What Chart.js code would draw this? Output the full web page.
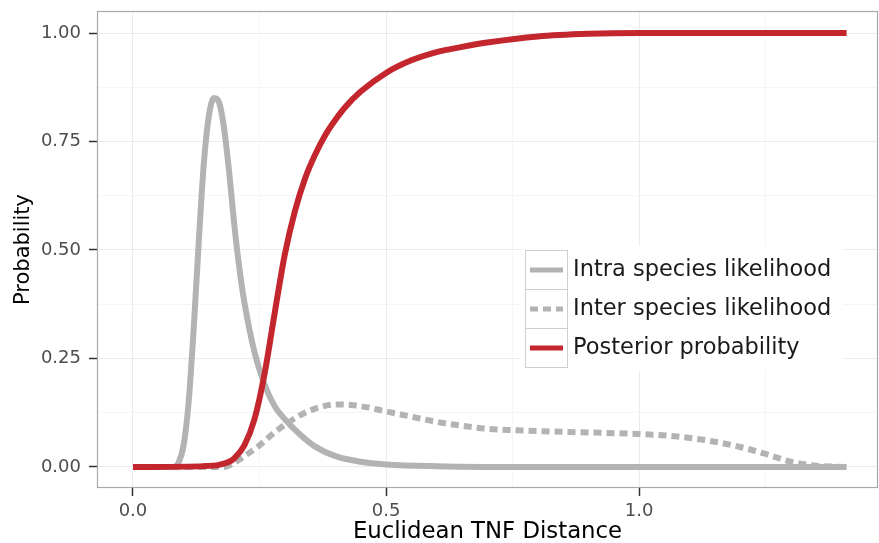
<!DOCTYPE html>
<html>
<head>
<meta charset="utf-8">
<script src="https://cdn.jsdelivr.net/npm/chart.js@4.4.0/dist/chart.umd.min.js"></script>
<style>
  html, body { margin: 0; padding: 0; background: #fff; }
  canvas { display: block; }
</style>
</head>
<body>
<canvas id="chart" width="879" height="543"></canvas>
<script>
/* ===== Intra / inter species likelihood vs posterior ===== */

const seriesNames = ['Intra species likelihood', 'Inter species likelihood', 'Posterior probability'];

const intraX = [0, 0.08, 0.09, 0.10, 0.11, 0.12, 0.13, 0.14, 0.15, 0.16, 0.17, 0.18, 0.19, 0.20, 0.21, 0.22,
                0.24, 0.26, 0.28, 0.30, 0.33, 0.36, 0.40, 0.45, 0.50, 0.60, 0.80, 1.41];
const intraY = [0, 0, 0.01, 0.05, 0.15, 0.32, 0.52, 0.70, 0.81, 0.85, 0.84, 0.78, 0.68, 0.56, 0.46, 0.38,
                0.265, 0.19, 0.14, 0.11, 0.075, 0.047, 0.025, 0.012, 0.006, 0.002, 0, 0];

const interX = [0, 0.18, 0.20, 0.22, 0.25, 0.28, 0.31, 0.34, 0.37, 0.40, 0.43, 0.46, 0.50, 0.55, 0.60, 0.65,
                0.70, 0.75, 0.85, 0.95, 1.00, 1.06, 1.13, 1.20, 1.25, 1.30, 1.35, 1.41];
const interY = [0, 0, 0.01, 0.025, 0.05, 0.08, 0.105, 0.125, 0.138, 0.144, 0.143, 0.138, 0.128, 0.116, 0.104, 0.095,
                0.088, 0.085, 0.081, 0.078, 0.076, 0.072, 0.062, 0.046, 0.03, 0.012, 0.003, 0];

const postX = [0, 0.14, 0.17, 0.19, 0.20, 0.22, 0.24, 0.26, 0.28, 0.30, 0.32, 0.34, 0.36, 0.38, 0.40, 0.42,
               0.45, 0.50, 0.55, 0.60, 0.65, 0.70, 0.80, 0.90, 1.00, 1.41];
const postY = [0, 0.002, 0.005, 0.012, 0.02, 0.05, 0.11, 0.215, 0.355, 0.49, 0.59, 0.665, 0.72, 0.765, 0.80, 0.83,
               0.865, 0.908, 0.937, 0.956, 0.968, 0.978, 0.992, 0.998, 1.0, 1.0];

const xMajorTicks = [0, 0.5, 1.0];
const xMinorTicks = [0.25, 0.75, 1.25];
const yMajorTicks = [0, 0.25, 0.5, 0.75, 1.0];
const yMinorTicks = [0.125, 0.375, 0.625, 0.875];

const GRAY = '#b3b3b5';
const RED = '#c3262d';
const FONT = '"DejaVu Sans", Arial, sans-serif';

function toPoints(xs, ys) {
  return xs.map((x, i) => ({ x: x, y: ys[i] }));
}

function tickList(major, minor) {
  return major.concat(minor).sort((a, b) => a - b).map(v => ({ value: v }));
}

// panel border (theme_bw style)
const framePlugin = {
  id: 'frame',
  beforeDatasetsDraw(chart) {
    const a = chart.chartArea, ctx = chart.ctx;
    ctx.save();
    ctx.strokeStyle = '#a9a9a9';
    ctx.lineWidth = 1.2;
    ctx.strokeRect(a.left + 0.5, a.top + 0.5, a.right - a.left - 1, a.bottom - a.top - 1);
    ctx.restore();
  }
};

// boxed legend inside the panel
const legendPlugin = {
  id: 'boxLegend',
  afterDraw(chart) {
    const ctx = chart.ctx;
    const x0 = 525, y0 = 250, keyW = 42, rowH = 39;
    ctx.save();
    ctx.fillStyle = '#ffffff';
    ctx.fillRect(x0 - 4, y0 - 4, 322, rowH * 3 + 8);
    chart.data.datasets.forEach((ds, i) => {
      const y = y0 + i * rowH;
      ctx.strokeStyle = '#cfcfcf';
      ctx.lineWidth = 1;
      ctx.strokeRect(x0 + 0.5, y + 0.5, keyW, rowH);
      ctx.strokeStyle = ds.borderColor;
      ctx.lineWidth = 5;
      ctx.lineCap = 'butt';
      ctx.setLineDash(ds.borderDash || []);
      ctx.beginPath();
      ctx.moveTo(x0 + 5, y + rowH / 2 + 0.5);
      ctx.lineTo(x0 + keyW - 4, y + rowH / 2 + 0.5);
      ctx.stroke();
      ctx.setLineDash([]);
      ctx.fillStyle = '#1a1a1a';
      ctx.font = '22.5px ' + FONT;
      ctx.textBaseline = 'middle';
      ctx.textAlign = 'left';
      ctx.fillText(ds.label, x0 + keyW + 6, y + rowH / 2 + 1);
    });
    ctx.restore();
  }
};

const ctx = document.getElementById('chart').getContext('2d');

new Chart(ctx, {
  type: 'line',
  data: {
    datasets: [
      {
        label: seriesNames[0],
        data: toPoints(intraX, intraY),
        borderColor: GRAY,
        borderWidth: 6,
        pointRadius: 0,
        cubicInterpolationMode: 'monotone',
        order: 1
      },
      {
        label: seriesNames[1],
        data: toPoints(interX, interY),
        borderColor: GRAY,
        borderWidth: 6,
        borderDash: [8, 5],
        pointRadius: 0,
        cubicInterpolationMode: 'monotone',
        order: 2
      },
      {
        label: seriesNames[2],
        data: toPoints(postX, postY),
        borderColor: RED,
        borderWidth: 6,
        pointRadius: 0,
        cubicInterpolationMode: 'monotone',
        order: 0
      }
    ]
  },
  options: {
    responsive: false,
    animation: false,
    devicePixelRatio: 1,
    layout: { padding: { top: 11, right: 1, left: 0, bottom: 0 } },
    plugins: {
      legend: { display: false },
      tooltip: { enabled: false }
    },
    scales: {
      x: {
        type: 'linear',
        min: -0.0711,
        max: 1.472,
        afterBuildTicks: s => { s.ticks = tickList(xMajorTicks, xMinorTicks); },
        afterFit: s => { s.height = 55; s.paddingLeft = 0; s.paddingRight = 0; },
        border: { display: false },
        grid: {
          color: c => xMajorTicks.includes(c.tick && c.tick.value) ? '#ebebeb' : '#f5f5f5',
          lineWidth: 1,
          tickLength: 8,
          tickWidth: 1.5,
          tickColor: c => xMajorTicks.includes(c.tick && c.tick.value) ? '#333333' : 'rgba(0,0,0,0)'
        },
        ticks: {
          autoSkip: false,
          maxRotation: 0,
          padding: 5,
          color: '#4d4d4d',
          font: { family: FONT, size: 18 },
          callback: v => xMajorTicks.includes(v) ? v.toFixed(1) : ''
        },
        title: {
          display: true,
          text: 'Euclidean TNF Distance',
          color: '#000000',
          font: { family: FONT, size: 22.8, lineHeight: 1 },
          padding: { top: 0, bottom: 0 }
        }
      },
      y: {
        type: 'linear',
        min: -0.0484,
        max: 1.0507,
        afterBuildTicks: s => { s.ticks = tickList(yMajorTicks, yMinorTicks); },
        afterFit: s => { s.width = 97; s.paddingTop = 0; s.paddingBottom = 0; },
        border: { display: false },
        grid: {
          color: c => yMajorTicks.includes(c.tick && c.tick.value) ? '#ebebeb' : '#f5f5f5',
          lineWidth: 1,
          tickLength: 8,
          tickWidth: 1.5,
          tickColor: c => yMajorTicks.includes(c.tick && c.tick.value) ? '#333333' : 'rgba(0,0,0,0)'
        },
        ticks: {
          autoSkip: false,
          padding: 8,
          color: '#4d4d4d',
          font: { family: FONT, size: 18 },
          callback: v => yMajorTicks.includes(v) ? v.toFixed(2) : ''
        },
        title: {
          display: true,
          text: 'Probability',
          color: '#000000',
          font: { family: FONT, size: 21, lineHeight: 1 },
          padding: { top: 13, bottom: 0 }
        }
      }
    }
  },
  plugins: [framePlugin, legendPlugin]
});
</script>
</body>
</html>
